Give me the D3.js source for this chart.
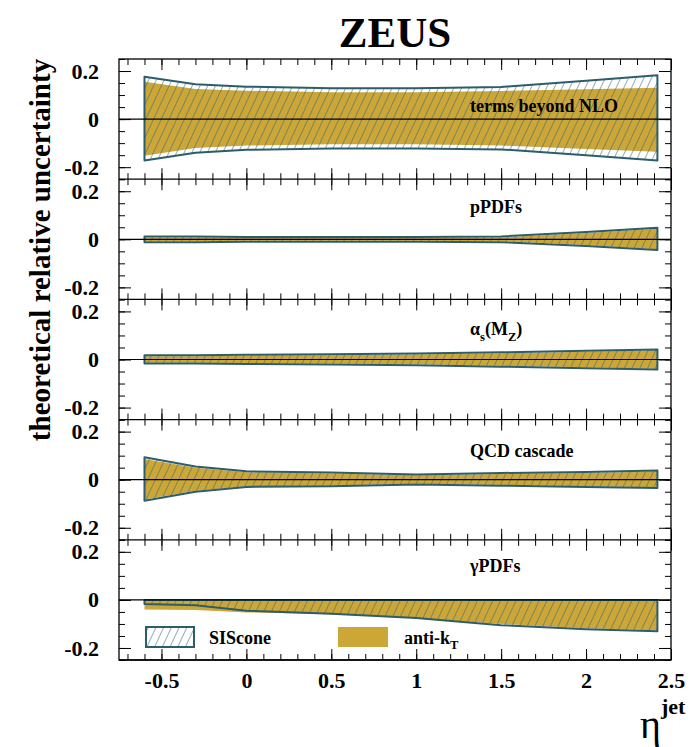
<!DOCTYPE html>
<html>
<head>
<meta charset="utf-8">
<script src="https://cdn.jsdelivr.net/npm/d3@7"></script>
<style>
  body { margin: 0; background: #fff; }
  text { font-family: "Liberation Serif", "Times New Roman", serif; font-weight: bold; fill: #000; }
</style>
</head>
<body>
<div id="chart"></div>
<script>
// eta^jet nodes where the uncertainty bands are sampled
const eta = [-0.6, -0.3, 0, 0.5, 1, 1.5, 2, 2.42];

// terms beyond NLO
const nloSisUp = [0.176, 0.145, 0.135, 0.128, 0.128, 0.134, 0.16, 0.182];
const nloSisLo = [-0.172, -0.14, -0.128, -0.122, -0.122, -0.126, -0.15, -0.172];
const nloAktUp = [0.155, 0.125, 0.118, 0.112, 0.112, 0.117, 0.124, 0.13];
const nloAktLo = [-0.152, -0.12, -0.11, -0.105, -0.105, -0.11, -0.124, -0.136];

// proton PDFs
const ppdfSisUp = [0.012, 0.012, 0.01, 0.01, 0.01, 0.012, 0.03, 0.048];
const ppdfSisLo = [-0.012, -0.012, -0.01, -0.01, -0.01, -0.012, -0.028, -0.045];
const ppdfAktUp = [0.008, 0.008, 0.006, 0.006, 0.006, 0.008, 0.026, 0.044];
const ppdfAktLo = [-0.008, -0.008, -0.006, -0.006, -0.006, -0.008, -0.024, -0.041];

// alpha_s(M_Z)
const asSisUp = [0.018, 0.018, 0.02, 0.022, 0.025, 0.03, 0.036, 0.042];
const asSisLo = [-0.017, -0.017, -0.019, -0.021, -0.024, -0.03, -0.036, -0.042];
const asAktUp = [0.014, 0.014, 0.016, 0.018, 0.021, 0.026, 0.032, 0.038];
const asAktLo = [-0.013, -0.013, -0.015, -0.017, -0.02, -0.026, -0.032, -0.038];

// QCD cascade
const qcdSisUp = [0.093, 0.055, 0.035, 0.03, 0.022, 0.028, 0.032, 0.038];
const qcdSisLo = [-0.088, -0.05, -0.03, -0.027, -0.02, -0.025, -0.03, -0.035];
const qcdAktUp = [0.086, 0.05, 0.031, 0.026, 0.018, 0.024, 0.028, 0.034];
const qcdAktLo = [-0.082, -0.046, -0.027, -0.024, -0.017, -0.022, -0.027, -0.031];

// photon PDFs
const gpdfSisUp = [0, 0, 0, 0, 0, 0, 0, 0];
const gpdfSisLo = [-0.017, -0.022, -0.045, -0.058, -0.075, -0.105, -0.122, -0.13];
const gpdfAktUp = [-0.003, -0.003, -0.003, -0.003, -0.003, -0.003, -0.003, -0.003];
const gpdfAktLo = [-0.04, -0.042, -0.052, -0.06, -0.075, -0.1, -0.118, -0.126];

const panelNames = ["terms beyond NLO", "pPDFs", "α_s(M_Z)", "QCD cascade", "γPDFs"];
const legendNames = ["SIScone", "anti-k_T"];
const xTicks = [-0.5, 0, 0.5, 1, 1.5, 2, 2.5];
const yTicks = [-0.2, 0, 0.2];

const panels = [
    { name: panelNames[0], sisUp: nloSisUp, sisLo: nloSisLo, aktUp: nloAktUp, aktLo: nloAktLo },
    { name: panelNames[1], sisUp: ppdfSisUp, sisLo: ppdfSisLo, aktUp: ppdfAktUp, aktLo: ppdfAktLo },
    { name: panelNames[2], sisUp: asSisUp, sisLo: asSisLo, aktUp: asAktUp, aktLo: asAktLo },
    { name: panelNames[3], sisUp: qcdSisUp, sisLo: qcdSisLo, aktUp: qcdAktUp, aktLo: qcdAktLo },
    { name: panelNames[4], sisUp: gpdfSisUp, sisLo: gpdfSisLo, aktUp: gpdfAktUp, aktLo: gpdfAktLo }
];

const W = 692, H = 747;
const frame = { left: 119, right: 671, top: 59, bottom: 660 };
const panelH = (frame.bottom - frame.top) / panels.length;
const labelOffset = [53, 34, 36, 37, 32];   // label baseline below panel top

const gold = "#cca636", teal = "#2c5d6c";

const svg = d3.select("#chart")
    .append("svg")
    .attr("width", W)
    .attr("height", H);

const defs = svg.append("defs");
defs.append("pattern")
    .attr("id", "hatch")
    .attr("patternUnits", "userSpaceOnUse")
    .attr("width", 7)
    .attr("height", 7)
    .attr("patternTransform", "rotate(25)")
  .append("line")
    .attr("x1", 0).attr("y1", 0)
    .attr("x2", 0).attr("y2", 7)
    .attr("stroke", "#35697a")
    .attr("stroke-width", 1.1);

const x = d3.scaleLinear()
    .domain([-0.75, 2.5])
    .range([frame.left, frame.right]);

const minorX = d3.range(-0.7, 2.51, 0.1).map(v => Math.round(v * 10) / 10);
const minorY = d3.range(-0.25, 0.251, 0.05).map(v => Math.round(v * 100) / 100);

// put a string with "_c" subscripts into a text element
function richText(sel, str, size) {
    let shift = 0;
    str.split(/(_.)/).forEach(p => {
        if (!p) return;
        if (p[0] === "_") {
            sel.append("tspan").attr("dy", size * 0.3)
                .style("font-size", (size * 0.7) + "px").text(p.slice(1));
            shift = size * 0.3;
        } else {
            sel.append("tspan").attr("dy", -shift).text(p);
            shift = 0;
        }
    });
}

panels.forEach((p, i) => {
    const top = frame.top + i * panelH, bottom = top + panelH;
    const y = d3.scaleLinear().domain([-0.25, 0.25]).range([bottom, top]);
    const g = svg.append("g");

    const akt = d3.area()
        .x((d, j) => x(eta[j]))
        .y0((d, j) => y(p.aktLo[j]))
        .y1((d, j) => y(p.aktUp[j]));
    const sis = d3.area()
        .x((d, j) => x(eta[j]))
        .y0((d, j) => y(p.sisLo[j]))
        .y1((d, j) => y(p.sisUp[j]));

    g.append("path").datum(eta).attr("d", akt).attr("fill", gold);
    g.append("path").datum(eta).attr("d", sis)
        .attr("fill", "url(#hatch)")
        .attr("stroke", teal)
        .attr("stroke-width", 2)
        .attr("stroke-linejoin", "round");

    // zero line
    g.append("line")
        .attr("x1", frame.left).attr("x2", frame.right)
        .attr("y1", y(0)).attr("y2", y(0))
        .attr("stroke", "#000").attr("stroke-width", 1.2);

    // x ticks on top and bottom edges, pointing inside
    [[d3.axisBottom, top], [d3.axisTop, bottom]].forEach(([ax, pos]) => {
        g.append("g").attr("transform", `translate(0,${pos})`)
            .call(ax(x).tickValues(minorX).tickSize(6).tickFormat(""))
            .call(a => a.select(".domain").remove());
        g.append("g").attr("transform", `translate(0,${pos})`)
            .call(ax(x).tickValues(xTicks).tickSize(11).tickFormat(""))
            .call(a => a.select(".domain").remove());
    });

    // y ticks on left and right edges
    g.append("g").attr("transform", `translate(${frame.left},0)`)
        .call(d3.axisRight(y).tickValues(minorY).tickSize(6).tickFormat(""))
        .call(a => a.select(".domain").remove());
    g.append("g").attr("transform", `translate(${frame.right},0)`)
        .call(d3.axisLeft(y).tickValues(minorY).tickSize(6).tickFormat(""))
        .call(a => a.select(".domain").remove());
    g.append("g").attr("transform", `translate(${frame.right},0)`)
        .call(d3.axisLeft(y).tickValues(yTicks).tickSize(12).tickFormat(""))
        .call(a => a.select(".domain").remove());
    g.append("g").attr("transform", `translate(${frame.left},0)`)
        .call(d3.axisLeft(y).tickValues(yTicks).tickSize(-12).tickPadding(20)
            .tickFormat(d => String(d)))
        .call(a => a.select(".domain").remove())
        .selectAll("text")
        .style("font-size", "22px");

    g.selectAll(".tick line").attr("stroke", "#000").attr("stroke-width", 1);

    // panel separator
    g.append("line")
        .attr("x1", frame.left).attr("x2", frame.right)
        .attr("y1", bottom).attr("y2", bottom)
        .attr("stroke", "#000").attr("stroke-width", 1.3);

    const label = g.append("text")
        .attr("x", 470)
        .attr("y", top + labelOffset[i])
        .style("font-size", "18px");
    richText(label, p.name, 18);
});

// outer frame
svg.append("rect")
    .attr("x", frame.left).attr("y", frame.top)
    .attr("width", frame.right - frame.left)
    .attr("height", frame.bottom - frame.top)
    .attr("fill", "none")
    .attr("stroke", "#000")
    .attr("stroke-width", 1.3);

// x tick labels under the last panel
svg.append("g")
    .attr("transform", `translate(0,${frame.bottom})`)
    .call(d3.axisBottom(x).tickValues(xTicks).tickSize(0).tickPadding(12)
        .tickFormat(d => String(d)))
    .call(a => a.select(".domain").remove())
    .selectAll("text")
    .style("font-size", "22px");

// legend inside the last panel
const lg = svg.append("g");
lg.append("rect")
    .attr("x", 146).attr("y", 627).attr("width", 48).attr("height", 20)
    .attr("fill", "url(#hatch)")
    .attr("stroke", teal).attr("stroke-width", 2);
lg.append("text").attr("x", 209).attr("y", 644)
    .style("font-size", "18px").text(legendNames[0]);
lg.append("rect")
    .attr("x", 338).attr("y", 627).attr("width", 50).attr("height", 20)
    .attr("fill", gold);
const akLabel = lg.append("text").attr("x", 404).attr("y", 644)
    .style("font-size", "18px");
richText(akLabel, legendNames[1], 18);

// titles
svg.append("text")
    .attr("x", (frame.left + frame.right) / 2)
    .attr("y", 47)
    .attr("text-anchor", "middle")
    .style("font-size", "43px")
    .text("ZEUS");

svg.append("text")
    .attr("transform", `translate(50,250) rotate(-90)`)
    .attr("text-anchor", "middle")
    .style("font-size", "29px")
    .text("theoretical relative uncertainty");

const xt = svg.append("text")
    .attr("x", 640)
    .attr("y", 738);
xt.append("tspan").style("font-size", "40px").style("font-weight", "normal").text("η");
xt.append("tspan").attr("dy", -24).style("font-size", "22px").text("jet");
</script>
</body>
</html>
